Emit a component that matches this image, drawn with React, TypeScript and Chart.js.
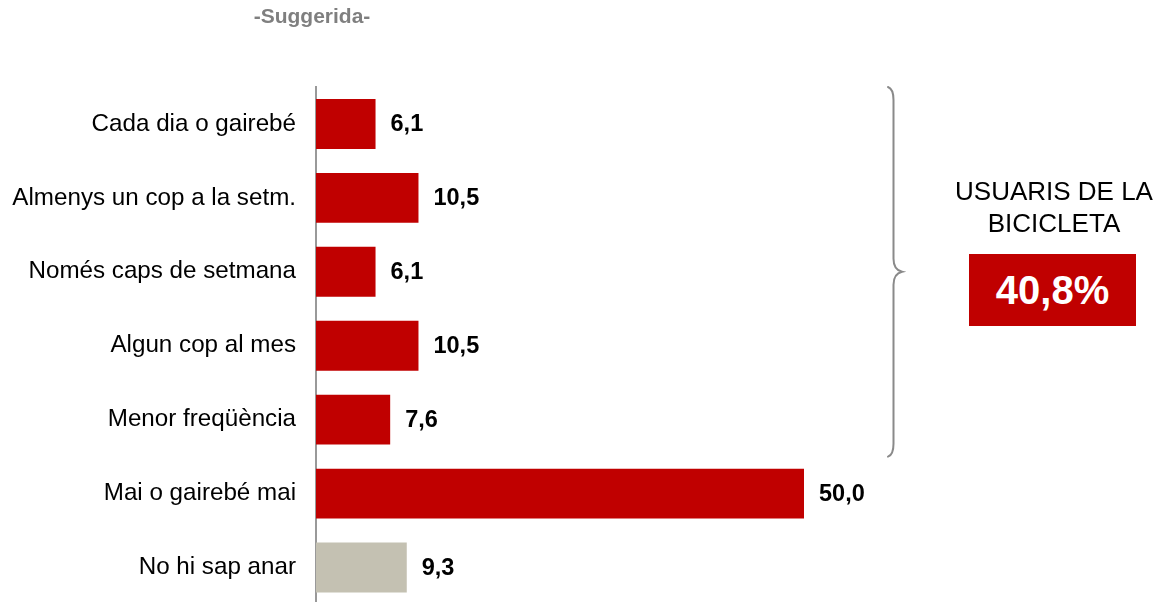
import React, { useEffect, useRef } from "react";
import { Chart, registerables } from "chart.js";

Chart.register(...registerables);

const categories = [
  "Cada dia o gairebé",
  "Almenys un cop a la setm.",
  "Només caps de setmana",
  "Algun cop al mes",
  "Menor freqüència",
  "Mai o gairebé mai",
  "No hi sap anar",
];
const values = [6.1, 10.5, 6.1, 10.5, 7.6, 50.0, 9.3];
const title = "-Suggerida-";
const annotationLines = ["USUARIS DE LA", "BICICLETA"];
const annotationValue = "40,8%";
const bracketFrom = 0;
const bracketTo = 4;

const RED = "#C00000";
const GREY = "#C4C1B2";
const FONT = "'Liberation Sans', Arial, Helvetica, sans-serif";

const fmt = (v: number) => v.toFixed(1).replace(".", ",");

const valueLabels = {
  id: "valueLabels",
  afterDatasetsDraw(chart: any) {
    const ctx = chart.ctx;
    const meta = chart.getDatasetMeta(0);
    ctx.save();
    ctx.font = `bold 23.5px ${FONT}`;
    ctx.fillStyle = "#000";
    ctx.textAlign = "left";
    ctx.textBaseline = "middle";
    meta.data.forEach((bar: any, i: number) => {
      ctx.fillText(fmt(values[i]), bar.x + 15, bar.y + 1);
    });
    ctx.restore();
  },
};

const bracket = {
  id: "bracket",
  afterDraw(chart: any) {
    const y = chart.scales.y;
    const ctx = chart.ctx;
    const half = (y.getPixelForValue(1) - y.getPixelForValue(0)) / 2;
    const top = y.getPixelForValue(bracketFrom) - half;
    const bottom = y.getPixelForValue(bracketTo) + half;
    const mid = (top + bottom) / 2;
    const x0 = 888;
    const x1 = 893.5;
    const xp = 902;
    ctx.save();
    ctx.strokeStyle = "#8a8a8a";
    ctx.lineWidth = 2;
    ctx.lineCap = "round";
    ctx.beginPath();
    ctx.moveTo(x0, top);
    ctx.quadraticCurveTo(x1, top + 2, x1, top + 13);
    ctx.lineTo(x1, mid - 13);
    ctx.quadraticCurveTo(x1, mid - 2, xp, mid);
    ctx.quadraticCurveTo(x1, mid + 2, x1, mid + 13);
    ctx.lineTo(x1, bottom - 13);
    ctx.quadraticCurveTo(x1, bottom - 2, x0, bottom);
    ctx.stroke();
    ctx.restore();
  },
};

export default function App() {
  const ref = useRef<HTMLCanvasElement | null>(null);

  useEffect(() => {
    if (!ref.current) return;
    const chart = new Chart(ref.current, {
      type: "bar",
      data: {
        labels: categories,
        datasets: [
          {
            data: values,
            backgroundColor: values.map((_, i) => (i === values.length - 1 ? GREY : RED)),
            borderWidth: 0,
            barPercentage: 0.675,
            categoryPercentage: 1,
          },
        ],
      },
      options: {
        indexAxis: "y",
        animation: false,
        responsive: false,
        events: [],
        layout: { padding: { top: 87, bottom: 5, left: 0, right: 265.4 } },
        plugins: { legend: { display: false }, tooltip: { enabled: false }, title: { display: false } },
        scales: {
          x: { display: false, min: 0, max: 60 },
          y: {
            grid: { display: false, drawTicks: false },
            border: { display: true, color: "#999999", width: 2 },
            ticks: {
              padding: 20,
              color: "#000",
              font: { family: FONT, size: 24.2 },
            },
            afterFit(scale: any) {
              scale.width = 316;
            },
          },
        },
      },
      plugins: [valueLabels, bracket],
    });
    return () => chart.destroy();
  }, []);

  return (
    <div
      style={{
        position: "fixed",
        left: 0,
        top: 0,
        width: 1167,
        height: 640,
        background: "#fff",
        fontFamily: FONT,
      }}
    >
      <canvas ref={ref} width={1167} height={639} style={{ position: "absolute", left: 0, top: 0 }} />
      <div
        style={{
          position: "absolute",
          left: 212,
          top: 5,
          width: 200,
          textAlign: "center",
          fontWeight: "bold",
          fontSize: 21,
          lineHeight: "21px",
          color: "#7f7f7f",
        }}
      >
        {title}
      </div>
      <div
        style={{
          position: "absolute",
          left: 944,
          top: 174.5,
          width: 220,
          textAlign: "center",
          fontSize: 26,
          lineHeight: "32px",
          color: "#000",
        }}
      >
        {annotationLines.map((l) => (
          <div key={l}>{l}</div>
        ))}
      </div>
      <div
        style={{
          position: "absolute",
          left: 969,
          top: 254,
          width: 167,
          height: 72,
          background: RED,
          color: "#fff",
          fontWeight: "bold",
          fontSize: 40,
          lineHeight: "72px",
          textAlign: "center",
        }}
      >
        {annotationValue}
      </div>
    </div>
  );
}
